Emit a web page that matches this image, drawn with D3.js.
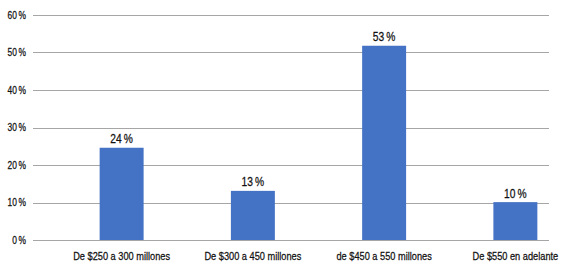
<!DOCTYPE html>
<html>
<head>
<meta charset="utf-8">
<script src="https://cdn.jsdelivr.net/npm/d3@7"></script>
<style>
    body { margin: 0; background: #fff; }
    svg text { font-family: 'Liberation Sans Narrow', 'Arial Narrow', 'Liberation Sans', Arial, sans-serif; fill: #111; stroke: #111; stroke-width: 0.25px; }
</style>
</head>
<body>
<div id="chart"></div>
<script>
// Data
const categories = ['De $250 a 300 millones', 'De $300 a 450 millones', 'de $450 a 550 millones', 'De $550 en adelante'];
const values = [24.6, 13.1, 51.8, 10.1];         // bar heights as drawn
const valueLabels = ['24 %', '13 %', '53 %', '10 %']; // printed labels
const ticks = [0, 10, 20, 30, 40, 50, 60];

const width = 571, height = 266;
const gridLeft = 33, gridRight = 549;
const narrow = 0.84; // horizontal squeeze to imitate a condensed face

const svg = d3.select('#chart').append('svg')
    .attr('width', width)
    .attr('height', height);

const y = d3.scaleLinear().domain([0, 60]).range([240, 15]);

// bars sit on a wider band than the visible grid (cropped chart)
const x = d3.scaleBand()
    .domain(categories)
    .range([56, 581])
    .paddingInner(0.665)
    .paddingOuter(0.3325);

// Gridlines
svg.append('g').selectAll('line').data(ticks).join('line')
    .attr('x1', gridLeft).attr('x2', gridRight)
    .attr('y1', d => Math.round(y(d)) + 0.5)
    .attr('y2', d => Math.round(y(d)) + 0.5)
    .attr('stroke', '#a6a6a6')
    .attr('stroke-width', 1);

// Y tick labels
svg.append('g').selectAll('text').data(ticks).join('text')
    .attr('transform', d => `translate(26,${y(d)}) scale(0.8,1)`)
    .attr('dy', '0.35em')
    .attr('text-anchor', 'end')
    .style('font-size', '10.5px')
    .text(d => d + '\u2009%');

// Bars
svg.append('g').selectAll('rect').data(values).join('rect')
    .attr('x', (d, i) => x(categories[i]))
    .attr('y', d => y(d))
    .attr('width', x.bandwidth())
    .attr('height', d => y(0) - y(d))
    .attr('fill', '#4472c4');

// Value labels
svg.append('g').selectAll('text').data(values).join('text')
    .attr('transform', (d, i) => `translate(${x(categories[i]) + x.bandwidth() / 2},${y(d) - 4.5}) scale(0.82,1)`)
    .attr('text-anchor', 'middle')
    .style('font-size', '12.5px')
    .text((d, i) => valueLabels[i].replace(' ', '\u2009'));

// Category labels
svg.append('g').selectAll('text').data(categories).join('text')
    .attr('transform', d => `translate(${x(d) + x.bandwidth() / 2},256) scale(${narrow},1)`)
    .attr('dy', '0.35em')
    .attr('text-anchor', 'middle')
    .style('font-size', '11px')
    .text(d => d);
</script>
</body>
</html>
